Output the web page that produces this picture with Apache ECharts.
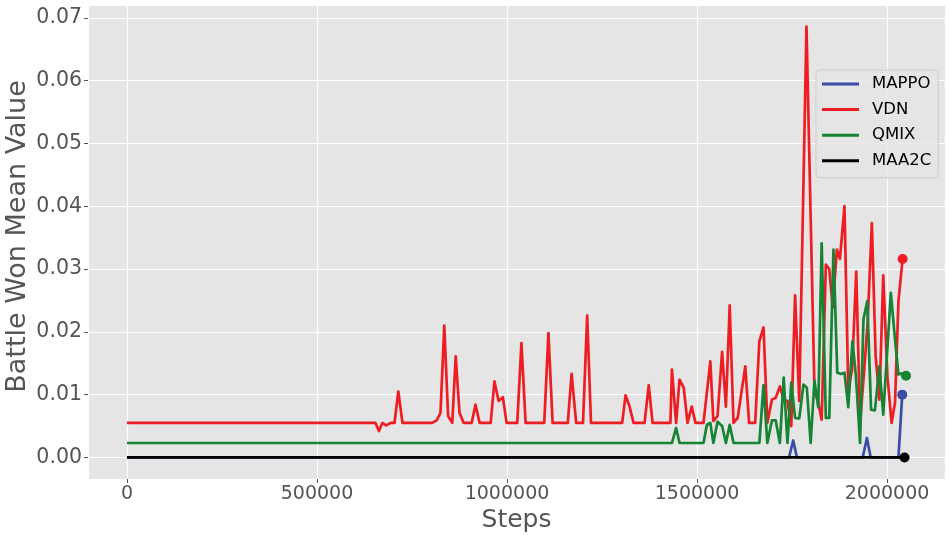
<!DOCTYPE html>
<html>
<head>
<meta charset="utf-8">
<script src="https://cdn.jsdelivr.net/npm/echarts@6/dist/echarts.min.js"></script>
<style>
html,body{margin:0;padding:0;background:#fff;}
#chart{width:950px;height:539px;}
</style>
</head>
<body>
<div id="chart"></div>
<script>
// ---- data: [steps, value] vertices ----
const seriesNames = ['MAPPO', 'VDN', 'QMIX', 'MAA2C'];
const seriesColors = ['#3A4DA6', '#EE1D23', '#168434', '#000000'];

const mappo = [
  [0, 0], [1742000, 0], [1753000, 0.0027], [1763000, 0],
  [1936000, 0], [1947000, 0.0031], [1957000, 0],
  [2030000, 0], [2040000, 0.0100]
];

const vdn = [
  [0, 0.0055], [654000, 0.0055], [663000, 0.0042], [672000, 0.0055], [682000, 0.0051],
  [694000, 0.0055], [704000, 0.0055], [714000, 0.0105], [725000, 0.0055],
  [803000, 0.0055], [815000, 0.0059], [825000, 0.0071], [835000, 0.0210], [845000, 0.0066],
  [856000, 0.0055], [865000, 0.0161], [875000, 0.0071], [886000, 0.0055],
  [907000, 0.0055], [917000, 0.0084], [928000, 0.0055],
  [957000, 0.0055], [967000, 0.0121], [978000, 0.0090], [989000, 0.0096], [999000, 0.0055],
  [1027000, 0.0055], [1038000, 0.0182], [1049000, 0.0055],
  [1098000, 0.0055], [1109000, 0.0198], [1120000, 0.0055],
  [1160000, 0.0055], [1170000, 0.0133], [1182000, 0.0055],
  [1200000, 0.0055], [1211000, 0.0226], [1221000, 0.0055],
  [1303000, 0.0055], [1312000, 0.0099], [1322000, 0.0082], [1333000, 0.0055],
  [1362000, 0.0055], [1373000, 0.0115], [1383000, 0.0055],
  [1430000, 0.0055], [1434000, 0.0140], [1445000, 0.0055], [1454000, 0.0124], [1465000, 0.0111],
  [1475000, 0.0055], [1486000, 0.0081], [1496000, 0.0055],
  [1517000, 0.0055], [1535000, 0.0153], [1543000, 0.0058], [1554000, 0.0066], [1566000, 0.0168],
  [1576000, 0.0081], [1586000, 0.0242], [1596000, 0.0055], [1607000, 0.0063], [1627000, 0.0145],
  [1637000, 0.0055], [1653000, 0.0055], [1664000, 0.0185], [1675000, 0.0207], [1685000, 0.0055],
  [1697000, 0.0092], [1707000, 0.0095], [1718000, 0.0113], [1728000, 0.0092], [1738000, 0.0090],
  [1748000, 0.0050], [1758000, 0.0258], [1769000, 0.0090], [1788000, 0.0686], [1809000, 0.0110],
  [1819000, 0.0087], [1828000, 0.0060], [1839000, 0.0307], [1848000, 0.0300], [1857000, 0.0239],
  [1868000, 0.0331], [1876000, 0.0316], [1888000, 0.0400], [1898000, 0.0108], [1908000, 0.0140],
  [1919000, 0.0296], [1929000, 0.0055], [1940000, 0.0140], [1949000, 0.0215], [1960000, 0.0373],
  [1970000, 0.0161], [1980000, 0.0092], [1990000, 0.0290], [2001000, 0.0129], [2012000, 0.0055],
  [2021000, 0.0087], [2030000, 0.0249], [2041000, 0.0316]
];

const qmix = [
  [0, 0.0023], [1434000, 0.0023], [1445000, 0.0047], [1454000, 0.0023],
  [1517000, 0.0023], [1526000, 0.0052], [1535000, 0.0055], [1543000, 0.0023], [1554000, 0.0057],
  [1566000, 0.0050], [1576000, 0.0023], [1586000, 0.0052], [1596000, 0.0023],
  [1664000, 0.0023], [1675000, 0.0115], [1685000, 0.0023], [1697000, 0.0059], [1707000, 0.0059],
  [1718000, 0.0023], [1728000, 0.0127], [1738000, 0.0023], [1748000, 0.0119], [1758000, 0.0063],
  [1769000, 0.0062], [1780000, 0.0116], [1789000, 0.0111], [1799000, 0.0023], [1809000, 0.0122],
  [1819000, 0.0080], [1828000, 0.0341], [1839000, 0.0063], [1848000, 0.0063], [1859000, 0.0331],
  [1869000, 0.0135], [1879000, 0.0133], [1888000, 0.0135], [1898000, 0.0080], [1909000, 0.0185],
  [1918000, 0.0130], [1929000, 0.0023], [1938000, 0.0220], [1948000, 0.0249], [1958000, 0.0076],
  [1968000, 0.0075], [1980000, 0.0145], [1990000, 0.0068], [2010000, 0.0262], [2021000, 0.0188],
  [2030000, 0.0132], [2039000, 0.0134], [2050000, 0.0130]
];

const maa2c = [
  [0, 0], [2046000, 0]
];

const seriesData = [mappo, vdn, qmix, maa2c];

const xTickInterval = 500000;
const yTickInterval = 0.01;

// ---- chart ----
const allX = seriesData.flat().map(p => p[0]);
const allY = seriesData.flat().map(p => p[1]);
const xMinD = Math.min(...allX), xMaxD = Math.max(...allX);
const yMinD = Math.min(...allY), yMaxD = Math.max(...allY);
const xPad = (xMaxD - xMinD) * 0.05, yPad = (yMaxD - yMinD) * 0.05;

const chart = echarts.init(document.getElementById('chart'), null, {renderer: 'canvas'});
const font = 'DejaVu Sans';

const option = {
  animation: false,
  backgroundColor: '#ffffff',
  grid: {
    left: 88, right: 5, top: 5, bottom: 60,
    outerBoundsMode: 'none', containLabel: false,
    show: true, backgroundColor: '#E5E5E5', borderWidth: 0
  },
  legend: {
    data: seriesNames,
    orient: 'vertical',
    left: 816, top: 70,
    icon: 'rect',
    itemWidth: 37, itemHeight: 3,
    itemGap: 5.6,
    padding: [4, 7, 7, 6],
    backgroundColor: 'rgba(229,229,229,0.8)',
    borderColor: 'rgba(204,204,204,0.9)',
    borderWidth: 1,
    borderRadius: 4,
    textStyle: {fontFamily: font, fontSize: 16.5, color: '#000', lineHeight: 20, padding: [0, 0, 0, 8]}
  },
  xAxis: {
    type: 'value',
    min: xMinD - xPad, max: xMaxD + xPad,
    splitNumber: 5, minInterval: xTickInterval, maxInterval: xTickInterval,
    name: 'Steps', nameLocation: 'middle', nameGap: 29, nameMoveOverlap: false,
    nameTextStyle: {fontFamily: font, fontSize: 25, color: '#555555'},
    axisLine: {show: false, onZero: false},
    axisTick: {show: true, length: 4, lineStyle: {color: '#555555'}},
    axisLabel: {
      fontFamily: font, fontSize: 19, color: '#555555', margin: 6,
      showMinLabel: false, showMaxLabel: false,
      formatter: v => String(Math.round(v))
    },
    splitLine: {show: true, lineStyle: {color: '#ffffff', width: 1.2}}
  },
  yAxis: {
    type: 'value',
    min: yMinD - yPad, max: yMaxD + yPad,
    splitNumber: 7, minInterval: yTickInterval, maxInterval: yTickInterval,
    name: 'Battle Won Mean Value', nameLocation: 'middle', nameGap: 57, nameMoveOverlap: false,
    nameTextStyle: {fontFamily: font, fontSize: 27, color: '#555555', padding: [0, 0, 0, 11]},
    axisLine: {show: false, onZero: false},
    axisTick: {show: true, length: 4, lineStyle: {color: '#555555'}},
    axisLabel: {
      fontFamily: font, fontSize: 20.5, color: '#555555', margin: 6,
      showMinLabel: false, showMaxLabel: false,
      formatter: v => v.toFixed(2)
    },
    splitLine: {show: true, lineStyle: {color: '#ffffff', width: 1.2}}
  },
  series: seriesNames.map((name, i) => {
    const data = seriesData[i];
    const last = data.length - 1;
    return {
      name: name,
      type: 'line',
      data: data,
      color: seriesColors[i],
      showSymbol: true,
      symbol: 'circle',
      symbolSize: (val, params) => params.dataIndex === last ? 10 : 0,
      itemStyle: {color: seriesColors[i], borderWidth: 0},
      lineStyle: {width: 2.7, color: seriesColors[i], join: 'round'},
      emphasis: {disabled: true},
      silent: true,
      z: 2 + i
    };
  })
};
chart.setOption(option);
</script>
</body>
</html>
